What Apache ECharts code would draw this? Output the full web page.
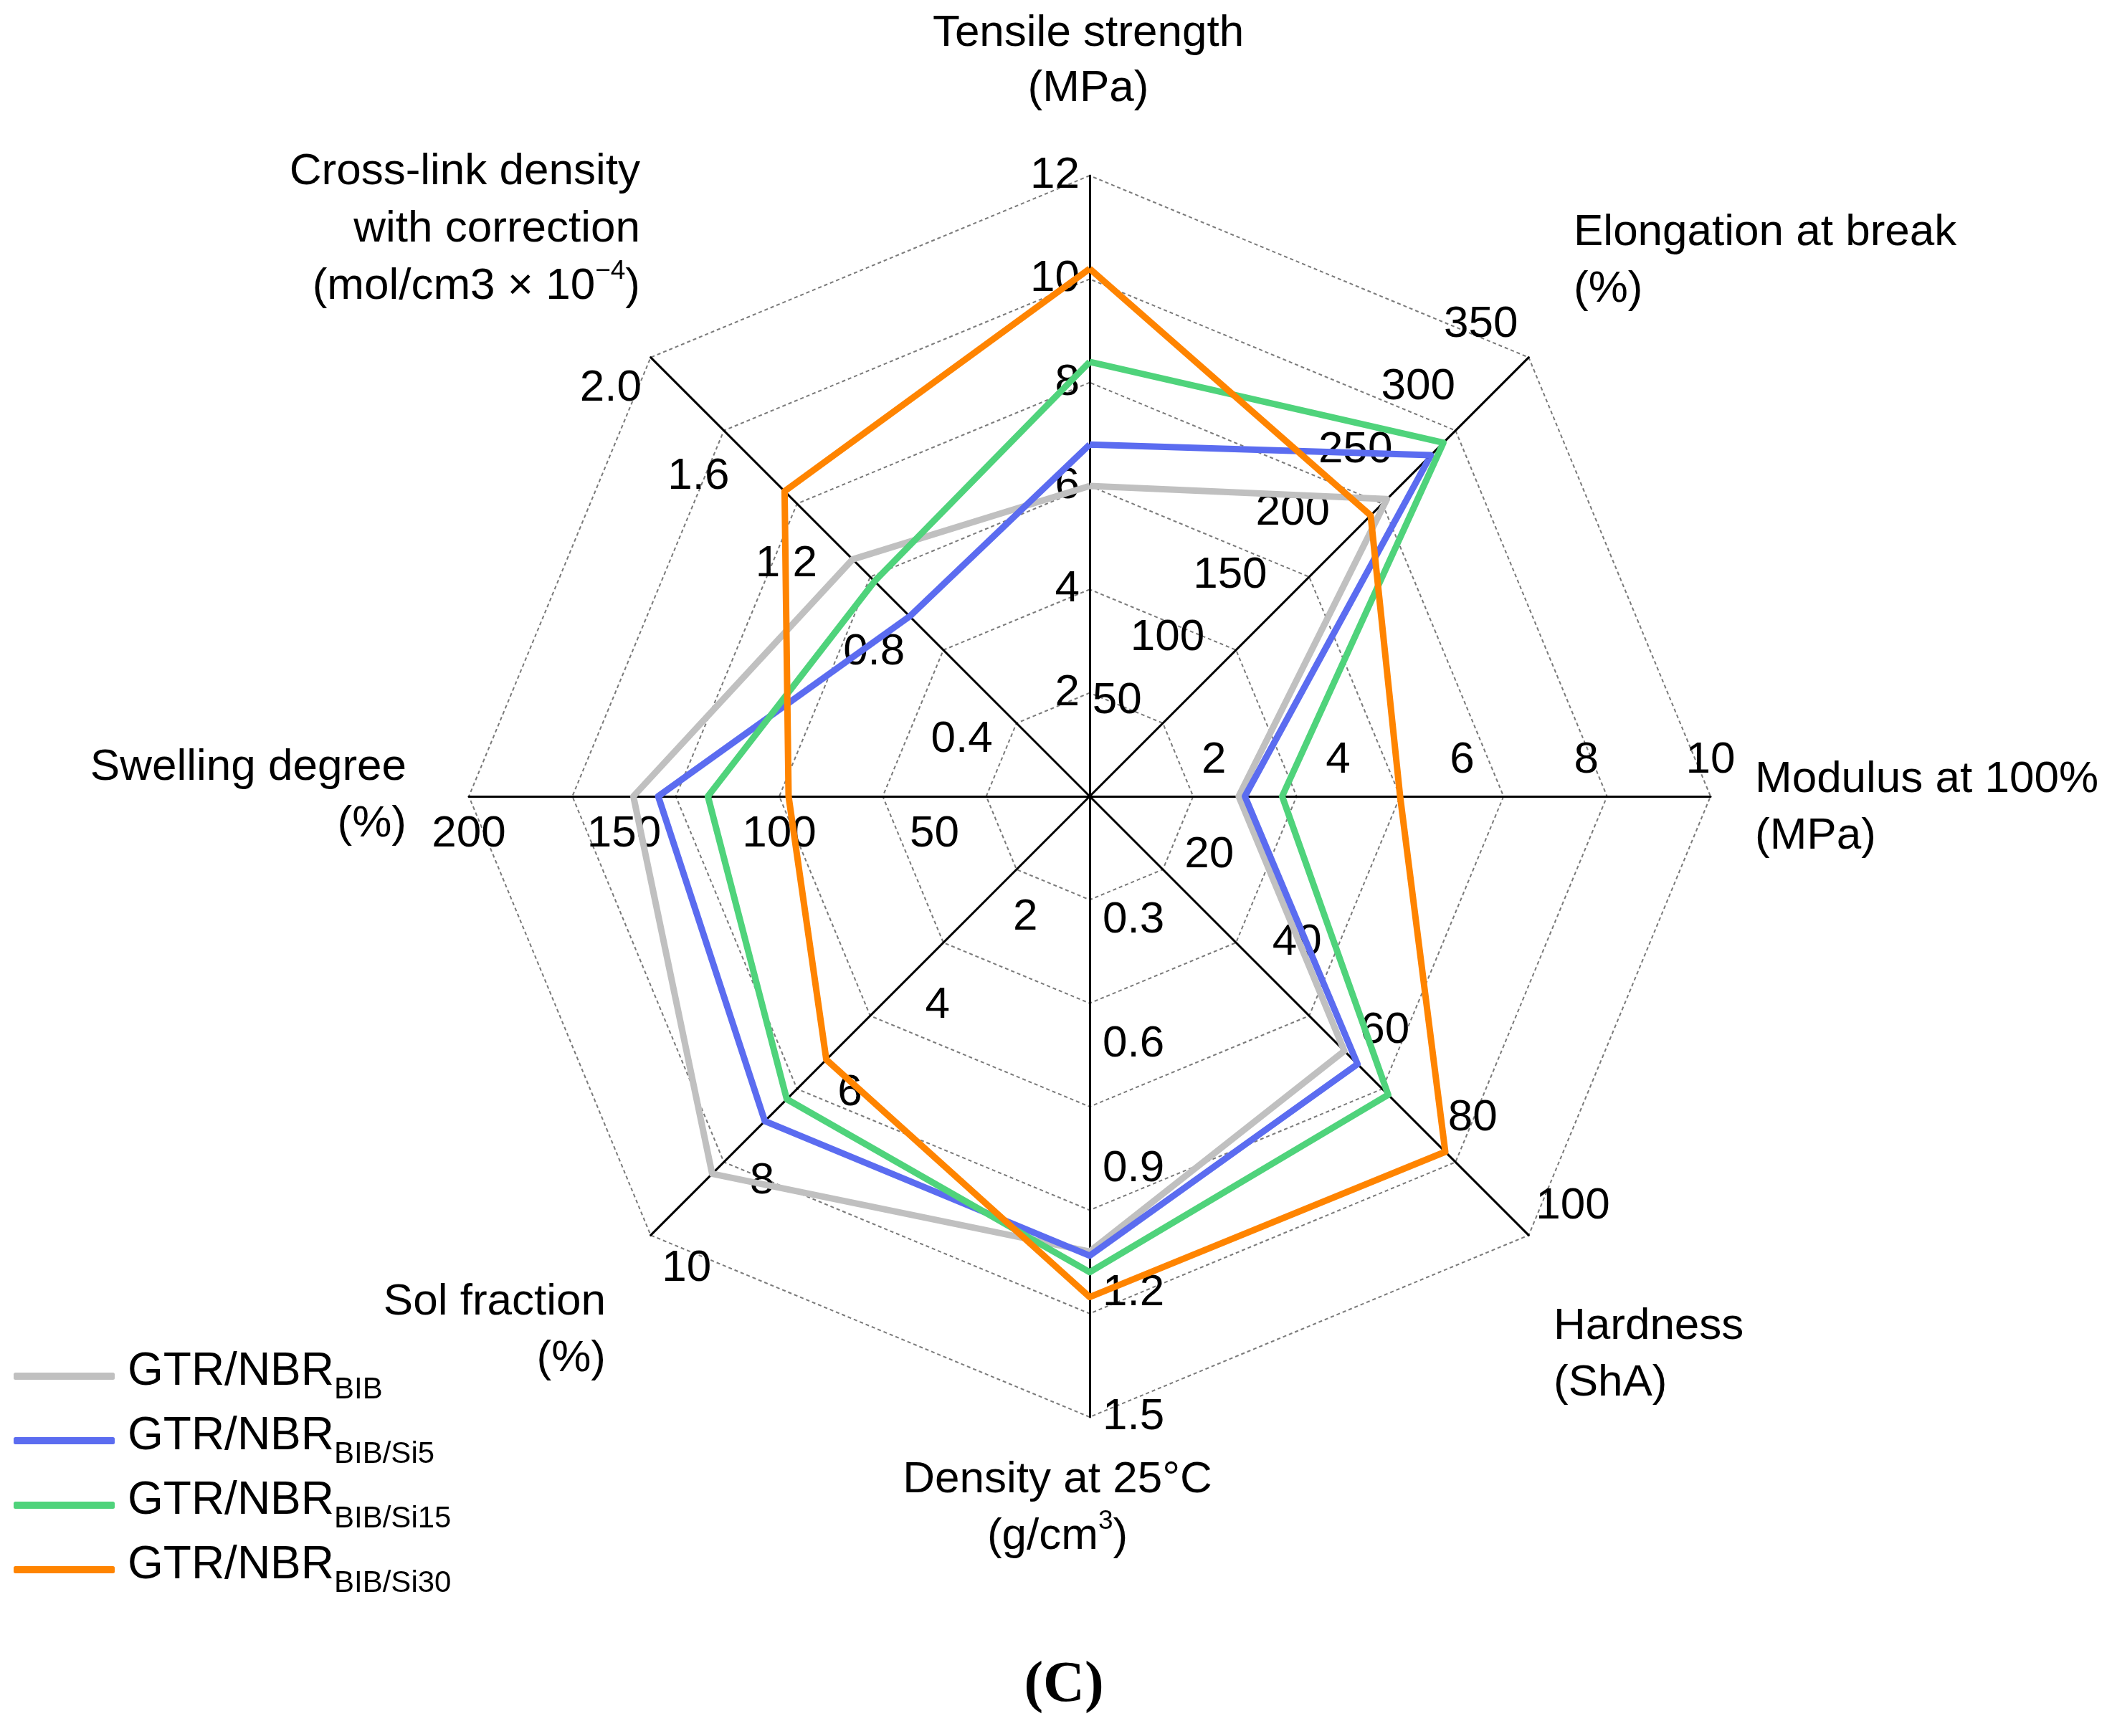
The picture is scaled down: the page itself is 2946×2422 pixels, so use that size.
<!DOCTYPE html>
<html><head><meta charset="utf-8">
<script src="https://cdn.jsdelivr.net/npm/echarts@6/dist/echarts.min.js"></script>
<style>html,body{margin:0;padding:0;background:#fff}#c{width:2946px;height:2422px}</style>
</head><body><div id="c"></div>
<script>
// Axes listed counter-clockwise starting from the top (ECharts radar order)
const axisKeys = ['Tensile strength', 'Cross-link density', 'Swelling degree', 'Sol fraction', 'Density at 25°C', 'Hardness', 'Modulus at 100%', 'Elongation at break'];
const axisMax = [12, 2.0, 200, 10, 1.5, 100, 10, 350];
const axisSplit = [6, 5, 4, 5, 5, 5, 5, 7];
const seriesNames = ['BIB', 'BIB/Si5', 'BIB/Si15', 'BIB/Si30'];
const valBIB  = [6.0, 1.08, 147, 8.6, 1.10, 58, 2.4, 237];
const valSi5  = [6.8, 0.82, 139, 7.4, 1.11, 61, 2.5, 272];
const valSi15 = [8.4, 0.98, 123, 6.9, 1.15, 68, 3.1, 282];
const valSi30 = [10.2, 1.39, 97, 6.0, 1.21, 81, 5.0, 224];
const seriesValues = [valBIB, valSi5, valSi15, valSi30];

const colors = ['#c0c0c0', '#5b6cf0', '#4fd37b', '#ff8400'];
const FONT = 'Liberation Sans, Arial, sans-serif';
const FS = 62;
const CENTER = [1520, 1111];
const RADIUS = 866;
// label placement per axis (same order as axisKeys)
const labelStyle = [
  { margin: 14 },                          // tensile
  { margin: 18, verticalAlign: 'top' },    // cross-link
  { margin: 22 },                          // swelling
  { margin: 22, verticalAlign: 'top' },    // sol fraction
  { margin: 18 },                          // density
  { margin: 14, verticalAlign: 'bottom' }, // hardness
  { margin: 19 },                          // modulus
  { margin: 21, verticalAlign: 'bottom' }  // elongation
];

const splitSets = [4, 5, 6, 7];
const mainSplit = 6;
const radars = splitSets.map(function (s) {
  const isMain = s === mainSplit;
  return {
    center: CENTER, radius: RADIUS, startAngle: 90, splitNumber: s, shape: 'polygon',
    axisName: { show: false },
    axisLine: { show: isMain, lineStyle: { color: '#000', width: 3 } },
    splitLine: { show: isMain, lineStyle: { color: '#7a7a7a', width: 2, type: [5, 4] } },
    splitArea: { show: false },
    axisTick: { show: false },
    axisLabel: { show: false, showMinLabel: false, fontSize: FS, color: '#000', fontFamily: FONT },
    indicator: axisKeys.map(function (k, i) {
      const lab = Object.assign({ show: axisSplit[i] === s, showMinLabel: false, fontSize: FS, color: '#000', fontFamily: FONT }, labelStyle[i]);
      if (i === 1) lab.formatter = function (v) { return Number(v).toFixed(1); };
      return { name: k, min: 0, max: axisMax[i], axisLabel: lab };
    })
  };
});
const mainRadarIndex = splitSets.indexOf(mainSplit);

function nameText(x, c1, text, align, lh) {
  return {
    type: 'text', x: x, y: c1 - lh / 2, z: 100,
    style: {
      text: text, align: align, verticalAlign: 'top', fontSize: FS, fontFamily: FONT, fill: '#000', lineHeight: lh,
      rich: { sup: { fontSize: 37, lineHeight: 50, verticalAlign: 'top', fontFamily: FONT, fill: '#000' } }
    }
  };
}

const option = {
  animation: false,
  backgroundColor: '#fff',
  radar: radars,
  legend: {
    left: 19, top: 1882, padding: 0, orient: 'vertical', icon: 'roundRect', itemWidth: 141, itemHeight: 10, itemGap: 12,
    data: seriesNames,
    formatter: function (n) { return '{m|GTR/NBR}{s|' + n + '}'; },
    textStyle: {
      rich: {
        m: { fontSize: 64, lineHeight: 76, verticalAlign: 'top', padding: [0, 0, 0, 13], fontFamily: FONT, color: '#000' },
        s: { fontSize: 42, lineHeight: 40, verticalAlign: 'top', padding: [36, 0, 0, 0], fontFamily: FONT, color: '#000' }
      }
    }
  },
  series: [{
    type: 'radar', radarIndex: mainRadarIndex, symbol: 'none', z: 10,
    data: seriesNames.map(function (n, i) {
      return { name: n, value: seriesValues[i], lineStyle: { color: colors[i], width: 9 }, itemStyle: { color: colors[i] } };
    })
  }],
  graphic: [
    nameText(1518, 47, 'Tensile strength\n(MPa)', 'center', 77),
    nameText(2195, 325, 'Elongation at break\n(%)', 'left', 79),
    nameText(2448, 1088, 'Modulus at 100%\n(MPa)', 'left', 79),
    nameText(2167, 1851, 'Hardness\n(ShA)', 'left', 79),
    nameText(1475, 2065, 'Density at 25°C\n(g/cm{sup|3})', 'center', 79),
    nameText(845, 1817, 'Sol fraction\n(%)', 'right', 79),
    nameText(567, 1071, 'Swelling degree\n(%)', 'right', 79),
    nameText(893, 240, 'Cross-link density\nwith correction\n(mol/cm3 × 10{sup|−4})', 'right', 80),
    { type: 'text', x: 1484, y: 2352, style: { text: '(C)', align: 'center', verticalAlign: 'middle', fontSize: 80, fontWeight: 'bold', fontFamily: 'Liberation Serif, Times New Roman, serif', fill: '#000' } }
  ]
};
const chart = echarts.init(document.getElementById('c'), null, { renderer: 'canvas' });
chart.setOption(option);
</script>
</body></html>
